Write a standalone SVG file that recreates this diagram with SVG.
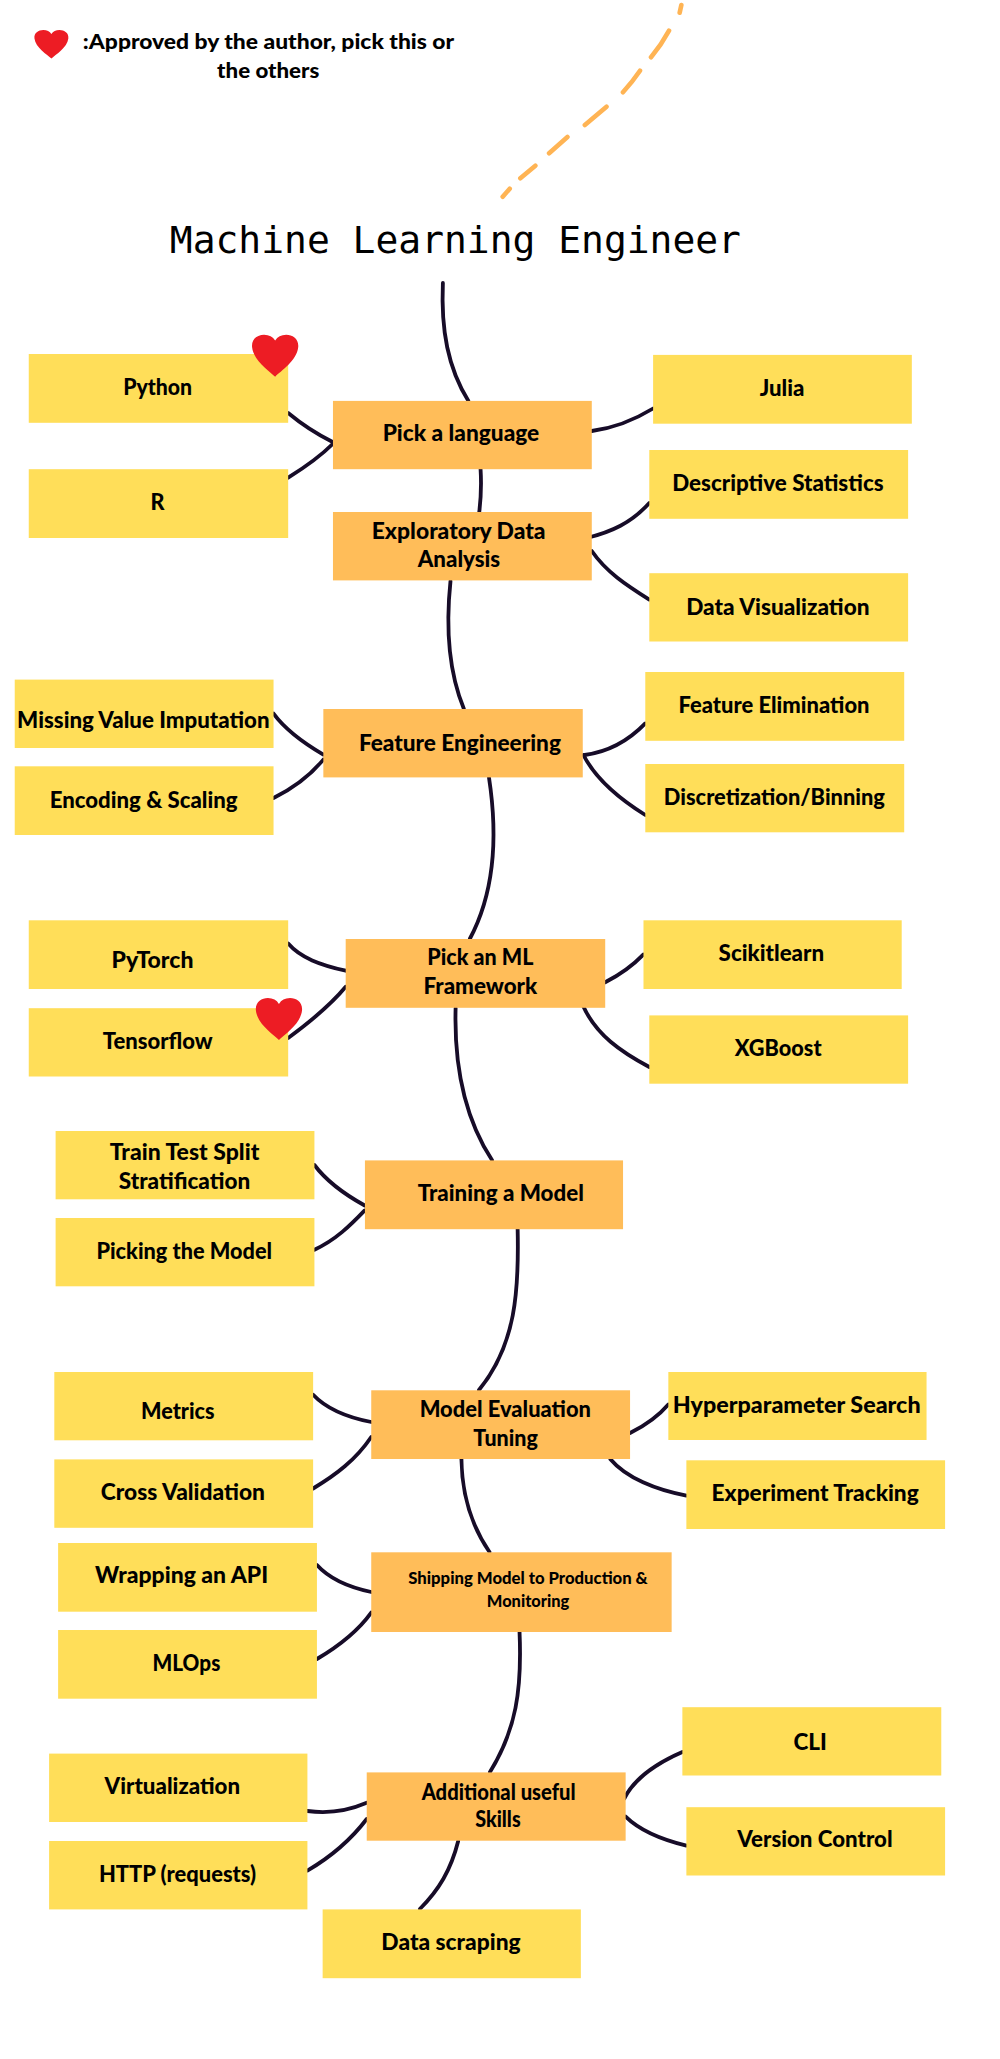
<svg xmlns="http://www.w3.org/2000/svg" xmlns:xlink="http://www.w3.org/1999/xlink" width="1000" height="2059" viewBox="0 0 1000 2059">
<style>
.leaf{fill:#ffde59}
.main{fill:#ffbd59}
text{font-family:"Lato","Liberation Sans",sans-serif;font-weight:900;font-size:22px;fill:#000;transform:translate(-0.8px,0.5px)}
.small{font-size:17px}
.legend{font-size:21px}
.title{font-family:"DejaVu Sans Mono",monospace;font-weight:400;font-size:38px;transform:translate(-0.5px,0)}
#connectors path{fill:none;stroke:#170c28;stroke-width:3.8;stroke-linecap:round}
#dash{fill:none;stroke:#ffb454;stroke-width:4.6;stroke-linecap:round}
</style>
<defs>
<path id="heart" d="M0.5 1C0.38 0.87 0.03 0.62 0 0.3C-0.02 0.1 0.12 0 0.26 0C0.37 0 0.45 0.05 0.5 0.14C0.55 0.05 0.63 0 0.74 0C0.88 0 1.02 0.1 1 0.3C0.97 0.62 0.62 0.87 0.5 1Z" fill="#ed1c24"/>
</defs>
<rect width="1000" height="2059" fill="#fff"/>
<g transform="scale(1.002 1)">
<path id="dash" d="M680 5L678.3 12.7M667.7 30.7Q660 45 649.7 57.3M638.7 70.7Q631 82 621.7 92.3M605.3 106.7L583.7 125M566.3 137L548 153.3M534.3 165.7L519.3 178.3M508.7 188.7L501.7 196.7"/>
<text class="title" x="170" y="253" textLength="570" lengthAdjust="spacingAndGlyphs">Machine Learning Engineer</text>
<g id="legend">
<use xlink:href="#heart" href="#heart" transform="translate(34.4 30) scale(33.8 28.5)"/>
<text class="legend" x="83.5" y="49" textLength="370.5" lengthAdjust="spacingAndGlyphs">:Approved by the author, pick this or</text>
<text class="legend" x="217.5" y="77.5" textLength="102" lengthAdjust="spacingAndGlyphs">the others</text>
</g>
<g id="connectors">
<path d="M442 283C440 330 447 368 467.5 401"/>
<path d="M479.6 469C480.6 485 480 498 478.3 512"/>
<path d="M449.6 581C445 625 447 670 463 709"/>
<path d="M488 777.5C496 830 495 890 468.8 939"/>
<path d="M454.7 1008C453 1070 465 1120 491 1160"/>
<path d="M516.6 1229C518 1290 515 1345 478 1390"/>
<path d="M460.5 1459C461 1495 470 1525 488.5 1552"/>
<path d="M518.5 1632C521 1690 515 1730 489 1772"/>
<path d="M457.3 1841C450 1870 438 1890 419 1909"/>
<path d="M287.6 413C302 425 316 434 332 442"/>
<path d="M287.6 477.7C303 468 320 456 332 444"/>
<path d="M590.6 431C613 428 633 420 651.8 408.5"/>
<path d="M585.5 538C610 532 630 523 648 503"/>
<path d="M590.6 551C605 572 625 585 648 599.6"/>
<path d="M273 713.6C285 730 303 743 322.7 754.6"/>
<path d="M273 798C293 788 310 775 322.7 759.6"/>
<path d="M583.5 755C606 752 627 741 644 723.4"/>
<path d="M582.3 755C595 780 620 800 644 815"/>
<path d="M287.6 943.5C300 958 320 965 345 970.7"/>
<path d="M287.6 1038C312 1020 330 1005 345 986.8"/>
<path d="M604 982.3C618 975 632 965 642 954.6"/>
<path d="M582 1006C595 1035 620 1052 648 1067"/>
<path d="M313.8 1165C325 1180 345 1195 364 1205.5"/>
<path d="M313.8 1249.7C335 1240 350 1225 364 1210.4"/>
<path d="M312.5 1394.7C325 1408 345 1417 370.5 1422"/>
<path d="M312.5 1488.5C335 1475 355 1460 370.5 1437"/>
<path d="M628.8 1433C645 1425 658 1415 667 1404.5"/>
<path d="M609 1459C625 1478 655 1490 685 1495.6"/>
<path d="M316.3 1565C328 1578 347 1587 370.5 1592"/>
<path d="M316.3 1659C340 1645 358 1630 370.5 1612.6"/>
<path d="M306.8 1811C328 1814 347 1811 366 1802.8"/>
<path d="M306.8 1870.6C330 1857 350 1840 366 1819"/>
<path d="M623 1798.7C633 1778 658 1762 681 1752"/>
<path d="M624.4 1816.6C640 1832 662 1840 685 1845.6"/>
</g>
<g id="n-python"><rect class="leaf" x="28.7" y="354" width="258.9" height="68.8"/><text x="123.7" y="395" textLength="68.9" lengthAdjust="spacingAndGlyphs">Python</text></g>
<g id="n-r"><rect class="leaf" x="28.7" y="469.2" width="258.9" height="68.8"/><text x="151" y="510" textLength="14" lengthAdjust="spacingAndGlyphs">R</text></g>
<g id="n-language"><rect class="main" x="332.3" y="400.9" width="258.3" height="68.3"/><text x="382.7" y="441" textLength="156.3" lengthAdjust="spacingAndGlyphs">Pick a language</text></g>
<g id="n-julia"><rect class="leaf" x="651.8" y="354.9" width="258.2" height="68.8"/><text x="759" y="396" textLength="44.6" lengthAdjust="spacingAndGlyphs">Julia</text></g>
<g id="n-descriptive"><rect class="leaf" x="648" y="450" width="258.3" height="68.8"/><text x="671.6" y="491" textLength="211.1" lengthAdjust="spacingAndGlyphs">Descriptive Statistics</text></g>
<g id="n-eda"><rect class="main" x="332.3" y="512" width="258.3" height="68.4"/><text x="371.8" y="538.4" textLength="173.5" lengthAdjust="spacingAndGlyphs">Exploratory Data</text><text x="417.7" y="567" textLength="82.3" lengthAdjust="spacingAndGlyphs">Analysis</text></g>
<g id="n-dataviz"><rect class="leaf" x="648" y="573.2" width="258.3" height="68.3"/><text x="685.6" y="614.3" textLength="183" lengthAdjust="spacingAndGlyphs">Data Visualization</text></g>
<g id="n-felim"><rect class="leaf" x="644" y="672" width="258.4" height="68.8"/><text x="678" y="713" textLength="190.6" lengthAdjust="spacingAndGlyphs">Feature Elimination</text></g>
<g id="n-missing"><rect class="leaf" x="14.7" y="679.6" width="258.3" height="68.4"/><text x="17.9" y="727.9" textLength="251.9" lengthAdjust="spacingAndGlyphs">Missing Value Imputation</text></g>
<g id="n-encoding"><rect class="leaf" x="14.7" y="766.3" width="258.3" height="68.7"/><text x="50.4" y="807.3" textLength="187.5" lengthAdjust="spacingAndGlyphs">Encoding &amp; Scaling</text></g>
<g id="n-feature"><rect class="main" x="322.7" y="709" width="258.9" height="68.4"/><text x="359" y="750.2" textLength="201.6" lengthAdjust="spacingAndGlyphs">Feature Engineering</text></g>
<g id="n-discret"><rect class="leaf" x="644" y="764" width="258.4" height="68.3"/><text x="663.3" y="805" textLength="220.7" lengthAdjust="spacingAndGlyphs">Discretization/Binning</text></g>
<g id="n-pytorch"><rect class="leaf" x="28.7" y="920.3" width="258.9" height="68.7"/><text x="112.2" y="968" textLength="81.7" lengthAdjust="spacingAndGlyphs">PyTorch</text></g>
<g id="n-tensorflow"><rect class="leaf" x="28.7" y="1008.2" width="258.9" height="68.3"/><text x="103.3" y="1048.8" textLength="109.7" lengthAdjust="spacingAndGlyphs">Tensorflow</text></g>
<g id="n-framework"><rect class="main" x="345" y="939" width="259" height="68.8"/><text x="427.3" y="965" textLength="105.9" lengthAdjust="spacingAndGlyphs">Pick an ML</text><text x="423.5" y="994" textLength="113.5" lengthAdjust="spacingAndGlyphs">Framework</text></g>
<g id="n-scikit"><rect class="leaf" x="642.2" y="920.3" width="257.7" height="68.7"/><text x="718" y="961" textLength="105.3" lengthAdjust="spacingAndGlyphs">Scikitlearn</text></g>
<g id="n-xgboost"><rect class="leaf" x="648" y="1015.4" width="258.3" height="68.3"/><text x="734" y="1056" textLength="86.8" lengthAdjust="spacingAndGlyphs">XGBoost</text></g>
<g id="n-split"><rect class="leaf" x="55.5" y="1131" width="258.3" height="68.3"/><text x="110.3" y="1160" textLength="149.3" lengthAdjust="spacingAndGlyphs">Train Test Split</text><text x="119.3" y="1189" textLength="131.3" lengthAdjust="spacingAndGlyphs">Stratification</text></g>
<g id="n-picking"><rect class="leaf" x="55.5" y="1218" width="258.3" height="68.3"/><text x="97" y="1259" textLength="175.3" lengthAdjust="spacingAndGlyphs">Picking the Model</text></g>
<g id="n-training"><rect class="main" x="364.2" y="1160.4" width="257.6" height="68.8"/><text x="417.7" y="1201" textLength="165.8" lengthAdjust="spacingAndGlyphs">Training a Model</text></g>
<g id="n-metrics"><rect class="leaf" x="54.2" y="1372" width="258.3" height="68.3"/><text x="141.6" y="1418.8" textLength="73.4" lengthAdjust="spacingAndGlyphs">Metrics</text></g>
<g id="n-cross"><rect class="leaf" x="54.2" y="1459.4" width="258.3" height="68.4"/><text x="101.4" y="1500" textLength="163.9" lengthAdjust="spacingAndGlyphs">Cross Validation</text></g>
<g id="n-evaluation"><rect class="main" x="370.5" y="1390.3" width="258.3" height="68.7"/><text x="419.6" y="1417" textLength="171" lengthAdjust="spacingAndGlyphs">Model Evaluation</text><text x="473.2" y="1446" textLength="64.4" lengthAdjust="spacingAndGlyphs">Tuning</text></g>
<g id="n-hyper"><rect class="leaf" x="667" y="1372" width="257.7" height="68"/><text x="672.2" y="1413" textLength="247.4" lengthAdjust="spacingAndGlyphs">Hyperparameter Search</text></g>
<g id="n-experiment"><rect class="leaf" x="685" y="1460.3" width="258.2" height="68.7"/><text x="711" y="1501" textLength="206.7" lengthAdjust="spacingAndGlyphs">Experiment Tracking</text></g>
<g id="n-wrapping"><rect class="leaf" x="58" y="1543" width="258.3" height="68.7"/><text x="95.7" y="1583" textLength="172.8" lengthAdjust="spacingAndGlyphs">Wrapping an API</text></g>
<g id="n-mlops"><rect class="leaf" x="58" y="1630" width="258.3" height="68.7"/><text x="153" y="1670.6" textLength="67.7" lengthAdjust="spacingAndGlyphs">MLOps</text></g>
<g id="n-shipping"><rect class="main" x="370.5" y="1552.3" width="299.8" height="79.7"/><text class="small" x="408.2" y="1584" textLength="239.1" lengthAdjust="spacingAndGlyphs">Shipping Model to Production &amp;</text><text class="small" x="486.6" y="1607" textLength="82.4" lengthAdjust="spacingAndGlyphs">Monitoring</text></g>
<g id="n-cli"><rect class="leaf" x="681" y="1707.2" width="258.4" height="68.3"/><text x="792.7" y="1749.6" textLength="33.3" lengthAdjust="spacingAndGlyphs">CLI</text></g>
<g id="n-virtual"><rect class="leaf" x="49" y="1753.6" width="257.8" height="68.4"/><text x="105.2" y="1793.8" textLength="135.2" lengthAdjust="spacingAndGlyphs">Virtualization</text></g>
<g id="n-http"><rect class="leaf" x="49" y="1841" width="257.8" height="68.4"/><text x="99.5" y="1882" textLength="156.9" lengthAdjust="spacingAndGlyphs">HTTP (requests)</text></g>
<g id="n-additional"><rect class="main" x="366" y="1772.4" width="258.4" height="68.3"/><text x="421.6" y="1799.6" textLength="153.7" lengthAdjust="spacingAndGlyphs">Additional useful</text><text x="475" y="1826.4" textLength="45.4" lengthAdjust="spacingAndGlyphs">Skills</text></g>
<g id="n-version"><rect class="leaf" x="685" y="1807.2" width="258.2" height="68.3"/><text x="736.6" y="1847" textLength="155" lengthAdjust="spacingAndGlyphs">Version Control</text></g>
<g id="n-scraping"><rect class="leaf" x="322" y="1909.4" width="257.7" height="68.8"/><text x="381.4" y="1950" textLength="139" lengthAdjust="spacingAndGlyphs">Data scraping</text></g>
<use xlink:href="#heart" href="#heart" transform="translate(251.6 334.7) scale(46 42)"/>
<use xlink:href="#heart" href="#heart" transform="translate(255.4 998) scale(46 42)"/>
</g>
</svg>
